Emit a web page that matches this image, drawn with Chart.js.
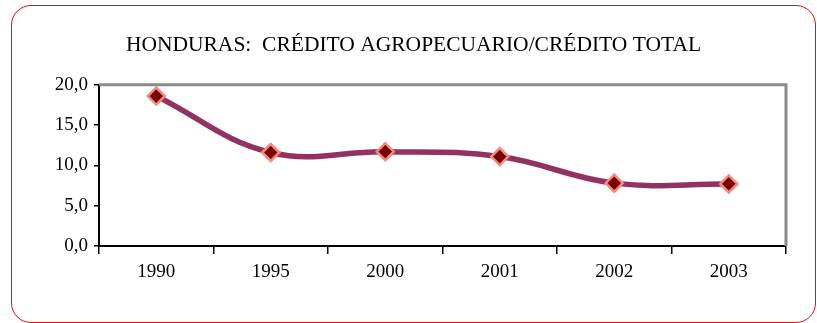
<!DOCTYPE html>
<html lang="es">
<head>
  <meta charset="UTF-8" />
  <title>Honduras: crédito agropecuario</title>
  <style>
    html, body { margin: 0; padding: 0; background: #fff; }
    #wrap { position: relative; width: 817px; height: 323px; }
    #frame {
      position: absolute; left: 11px; top: 5px; width: 803px; height: 316px;
      border: 1.5px solid #e01010; border-radius: 20px; box-sizing: content-box;
    }
    canvas { position: absolute; left: 0; top: 0; }
  </style>
</head>
<body>
  <div id="wrap">
    <div id="frame"></div>
    <canvas id="myChart" width="817" height="323"></canvas>
  </div>

  <script src="https://cdn.jsdelivr.net/npm/chart.js"></script>
  <script>
    const years = ['1990', '1995', '2000', '2001', '2002', '2003'];
    const share = [18.6, 11.6, 11.7, 11.1, 7.8, 7.7];
    const yTicks = [0, 5, 10, 15, 20];

    // gray frame on top and right side of the plot, like the Excel chart
    const plotFrame = {
      id: 'plotFrame',
      afterDraw(chart) {
        const {ctx, chartArea: a} = chart;
        ctx.save();
        ctx.strokeStyle = '#8a8a8a';
        ctx.lineWidth = 3;
        ctx.beginPath();
        ctx.moveTo(a.left, a.top);
        ctx.lineTo(a.right, a.top);
        ctx.lineTo(a.right, a.bottom);
        ctx.stroke();
        ctx.restore();
      }
    };

    const ctx = document.getElementById('myChart');
    new Chart(ctx, {
      type: 'line',
      data: {
        labels: years,
        datasets: [{
          data: share,
          borderColor: '#913262',
          borderWidth: 5.5,
          tension: 0.4,
          pointStyle: 'rectRot',
          pointRadius: 8.5,
          pointBackgroundColor: '#7a0000',
          pointBorderColor: '#f28a80',
          pointBorderWidth: 2.5,
          clip: false
        }]
      },
      options: {
        responsive: false,
        animation: false,
        layout: { padding: { left: 41, right: 31, top: 0, bottom: 0 } },
        plugins: {
          legend: { display: false },
          tooltip: { enabled: false },
          title: {
            display: true,
            text: 'HONDURAS:  CRÉDITO AGROPECUARIO/CRÉDITO TOTAL',
            color: '#000',
            font: { family: 'Liberation Serif', size: 21.5, weight: 'normal' },
            padding: { top: 32, bottom: 27 }
          }
        },
        scales: {
          x: {
            offset: true,
            afterFit(scale) { scale.height = 77; },
            grid: { drawOnChartArea: false, offset: true, tickLength: 8, color: '#000', lineWidth: 1.5 },
            border: { color: '#000', width: 2 },
            ticks: { color: '#000', padding: 7, font: { family: 'Liberation Serif', size: 19 } }
          },
          y: {
            min: 0,
            max: 20,
            afterFit(scale) { scale.width = 58; },
            afterBuildTicks(scale) { scale.ticks = yTicks.map(v => ({value: v})); },
            grid: { drawOnChartArea: false, tickLength: 5, color: '#000', lineWidth: 1.5 },
            border: { color: '#000', width: 2 },
            ticks: {
              color: '#000',
              padding: 6,
              font: { family: 'Liberation Serif', size: 19 },
              callback: v => v.toFixed(1).replace('.', ',')
            }
          }
        }
      },
      plugins: [plotFrame]
    });
  </script>
</body>
</html>
